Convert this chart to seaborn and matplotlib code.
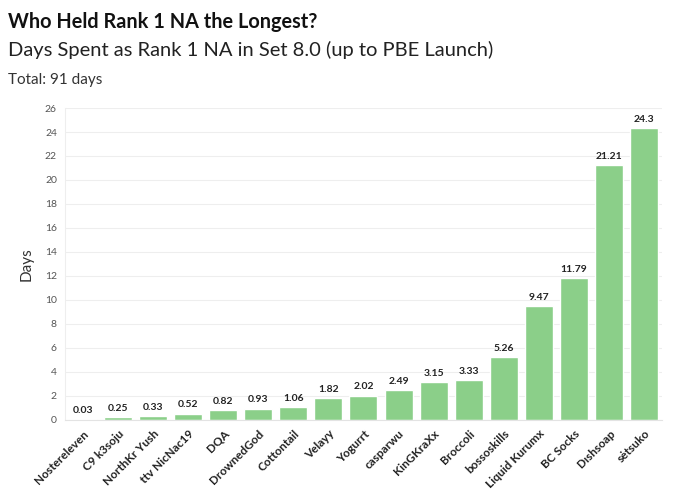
import pandas as pd
import matplotlib
matplotlib.use("Agg")
import matplotlib.pyplot as plt
import seaborn as sns

players = ["Nostereleven", "C9 k3soju", "NorthKr Yush", "ttv NicNac19", "DQA",
           "DrownedGod", "Cottontail", "Velayy", "Yogurrt", "casparwu",
           "KinGKraXx", "Broccoli", "bossoskills", "Liquid Kurumx", "BC Socks",
           "D\u0131shsoap", "s\u0117tsuko"]
days = [0.03, 0.25, 0.33, 0.52, 0.82, 0.93, 1.06, 1.82, 2.02, 2.49,
        3.15, 3.33, 5.26, 9.47, 11.79, 21.21, 24.3]
yticks = list(range(0, 27, 2))

df = pd.DataFrame({"Player": players, "Days": days})

sns.set_style("white")
plt.rcParams["font.family"] = ["Lato", "DejaVu Sans"]

fig = plt.figure(figsize=(6.8, 4.91), dpi=100)
ax = fig.add_axes([0.096, 0.145, 0.877, 0.635])

sns.barplot(data=df, x="Player", y="Days", color="#8bcf89", saturation=1,
            width=0.8, ax=ax, zorder=2)

for i, v in enumerate(days):
    ax.text(i, v + 0.35, f"{v:g}", ha="center", va="bottom",
            fontsize=7.5, fontweight="bold", color="#222222")

ax.set_ylim(0, 26)
ax.set_yticks(yticks)
ax.set_xlim(-0.5, len(players) - 0.5)
ax.yaxis.grid(True, color="#eeeeee", linewidth=0.8, zorder=0)
ax.set_axisbelow(True)
for s in ["top", "right"]:
    ax.spines[s].set_visible(False)
ax.spines["left"].set_color("#eeeeee")
ax.spines["bottom"].set_color("#e3e3e3")

ax.tick_params(axis="y", labelsize=7.5, colors="#555555", length=0, pad=6)
ax.tick_params(axis="x", labelsize=8.5, length=4, color="#cccccc", pad=2)
plt.setp(ax.get_xticklabels(), rotation=45, ha="right", rotation_mode="anchor",
         fontweight="bold", color="#222222")
ax.set_xlabel("")
ax.set_ylabel("Days", fontsize=11, color="#333333", labelpad=8)

fig.text(0.012, 0.955, "Who Held Rank 1 NA the Longest?", fontsize=14.3,
         fontweight="bold", color="#111111", va="center")
fig.text(0.012, 0.898, "Days Spent as Rank 1 NA in Set 8.0 (up to PBE Launch)",
         fontsize=14.5, color="#222222", va="center")
fig.text(0.012, 0.838, "Total: 91 days", fontsize=11, color="#333333", va="center")

fig.savefig("out.png", dpi=100)
